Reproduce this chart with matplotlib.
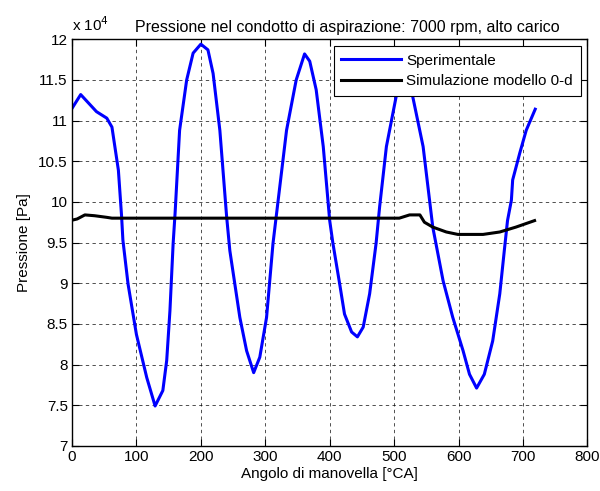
import matplotlib
matplotlib.use("Agg")
import matplotlib.pyplot as plt

# dati (pressione in unita' di 1e4 Pa)
ang_sper = [0, 13.5, 38, 54, 62, 72, 77, 79, 87, 100, 116, 129, 141, 147, 152,
            157, 160, 167, 178, 188, 200, 211, 219, 229.5, 240, 245, 260.5, 271,
            282, 291.5, 302, 312, 320, 333, 348, 361, 369, 379, 390, 400, 405,
            415.5, 423, 434, 443, 452, 462, 472, 477.5, 488, 503, 518, 529, 545,
            560, 576, 591, 607, 617, 628, 640, 653, 664, 671, 676, 682, 684, 695,
            705, 719]
p_sper = [11.15, 11.32, 11.11, 11.03, 10.92, 10.39, 9.82, 9.53, 8.99, 8.37, 7.84,
          7.49, 7.68, 8.05, 8.66, 9.49, 9.86, 10.88, 11.50, 11.83, 11.94, 11.87,
          11.58, 10.88, 9.82, 9.40, 8.58, 8.17, 7.90, 8.09, 8.58, 9.49, 10.02,
          10.88, 11.50, 11.82, 11.73, 11.38, 10.68, 9.77, 9.49, 8.99, 8.62, 8.40,
          8.34, 8.46, 8.87, 9.49, 9.94, 10.68, 11.29, 11.72, 11.29, 10.68, 9.69,
          9.03, 8.58, 8.17, 7.88, 7.71, 7.88, 8.29, 8.87, 9.40, 9.77, 10.02,
          10.27, 10.60, 10.88, 11.14]

ang_sim = [0, 8, 20, 35, 54, 62, 200, 400, 508, 524, 540, 547, 560, 581, 599,
           620, 638, 664, 689, 718]
p_sim = [9.775, 9.79, 9.84, 9.83, 9.81, 9.80, 9.80, 9.80, 9.80, 9.84, 9.84, 9.75,
         9.69, 9.63, 9.60, 9.60, 9.60, 9.63, 9.69, 9.77]

xticks = [0, 100, 200, 300, 400, 500, 600, 700, 800]
yticks = [7, 7.5, 8, 8.5, 9, 9.5, 10, 10.5, 11, 11.5, 12]
ylabels = ["7", "7.5", "8", "8.5", "9", "9.5", "10", "10.5", "11", "11.5", "12"]

plt.rcParams['font.family'] = ['Liberation Sans', 'DejaVu Sans']
plt.rcParams['font.size'] = 11

fig = plt.figure(figsize=(6, 4.91), dpi=100)
ax = fig.add_axes([0.12, 0.092, 0.859, 0.828])

ax.plot(ang_sper, p_sper, color='#0000ff', lw=2.2, label='Sperimentale',
        solid_joinstyle='round')
ax.plot(ang_sim, p_sim, color='black', lw=2.2, label='Simulazione modello 0-d',
        solid_joinstyle='round')

ax.set_xlim(0, 800)
ax.set_ylim(7, 12)
ax.set_xticks(xticks)
ax.set_yticks(yticks)
ax.set_yticklabels(ylabels)
ax.tick_params(direction='in', top=True, right=True, length=5, width=0.8, pad=3)
ax.grid(True, color='black', linestyle=(0, (4, 4)), linewidth=0.6, alpha=0.8)
for s in ax.spines.values():
    s.set_linewidth(1.0)

ax.set_xlabel('Angolo di manovella [°CA]', labelpad=2)
ax.set_ylabel('Pressione [Pa]', labelpad=5)
ax.set_title('Pressione nel condotto di aspirazione: 7000 rpm, alto carico',
             fontsize=11.5, x=0.535, pad=5)
ax.text(0.0, 1.012, r'x 10$^4$', transform=ax.transAxes, fontsize=11,
        ha='left', va='bottom')

leg = ax.legend(loc='upper right', fancybox=False, framealpha=1, edgecolor='black',
                borderaxespad=0.45, handlelength=3.9, borderpad=0.5,
                labelspacing=0.4, handletextpad=0.35)
leg.get_frame().set_linewidth(0.8)

fig.savefig('out.png', dpi=100)
